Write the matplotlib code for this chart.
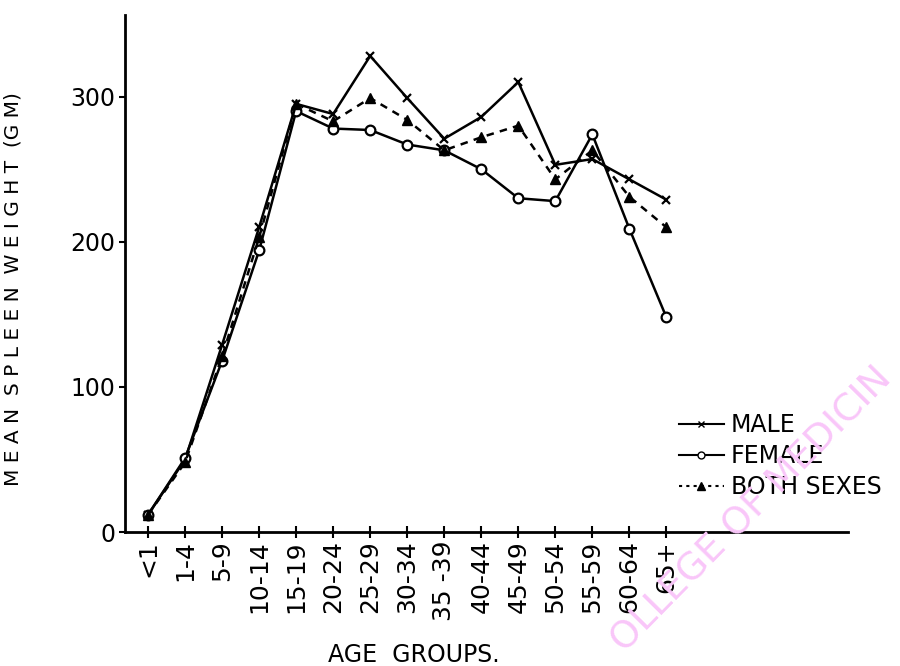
import matplotlib
matplotlib.use('Agg')
import matplotlib.pyplot as plt
from matplotlib.lines import Line2D

age_groups = ['<1', '1-4', '5-9', '10-14', '15-19', '20-24', '25-29', '30-34',
              '35 -39', '40-44', '45-49', '50-54', '55-59', '60-64', '65+']
male = [12, 50, 129, 210, 295, 288, 328, 299, 271, 286, 310, 253, 257, 243, 229]
female = [12, 51, 118, 194, 290, 278, 277, 267, 263, 250, 230, 228, 274, 209, 148]
both = [12, 48, 121, 203, 295, 283, 299, 284, 263, 272, 280, 243, 263, 231, 210]
y_ticks = [0, 100, 200, 300]

plt.rcParams['font.family'] = ['DejaVu Sans']

fig = plt.figure(figsize=(9, 6.66), dpi=100)
ax = fig.add_axes([0.139, 0.201, 0.803, 0.776])

x = list(range(len(age_groups)))
ax.plot(x, male, color='black', lw=1.8, marker='x', ms=6, mew=1.6)
ax.plot(x, female, color='black', lw=1.8, marker='o', ms=7, mfc='white', mew=1.6)
ax.plot(x, both, color='black', lw=1.8, ls=(0, (3, 2.5)), marker='^', ms=7)

ax.set_xlim(-0.62, 18.9)
ax.set_ylim(0, 356)
ax.set_xticks(x)
ax.set_xticklabels(age_groups, rotation=90, fontsize=18)
ax.set_yticks(y_ticks)
ax.set_yticklabels([str(v) for v in y_ticks], fontsize=17)
ax.tick_params(axis='x', direction='inout', length=8, width=1.5, pad=2)
ax.tick_params(axis='y', direction='out', length=4, width=1.5, pad=3)
for side in ['top', 'right']:
    ax.spines[side].set_visible(False)
for side in ['left', 'bottom']:
    ax.spines[side].set_linewidth(2)

ax.set_ylabel('M E A N  S P L E E N  W E I G H T  (G M)', fontsize=14.5)
ax.yaxis.set_label_coords(-0.142, 0.47)
ax.set_xlabel('AGE  GROUPS.', fontsize=17)
ax.xaxis.set_label_coords(0.4, -0.215)

handles = [
    Line2D([], [], color='black', lw=1.5, marker='x', ms=5),
    Line2D([], [], color='black', lw=1.5, marker='o', ms=5, mfc='white'),
    Line2D([], [], color='black', lw=1.5, ls=(0, (1.5, 2)), marker='^', ms=6),
]
ax.legend(handles, ['MALE', 'FEMALE', 'BOTH SEXES'], loc='lower right',
          bbox_to_anchor=(1.06, 0.045), frameon=False, fontsize=17,
          handlelength=1.9, handletextpad=0.3, labelspacing=0.3,
          borderaxespad=0)

# faint watermark from the scan
fig.text(0.835, 0.235, 'OLLEGE OF MEDICIN', rotation=45.5, fontsize=27,
         color='#f9c6f9', ha='center', va='center', zorder=0)

fig.savefig('out.png', dpi=100)
